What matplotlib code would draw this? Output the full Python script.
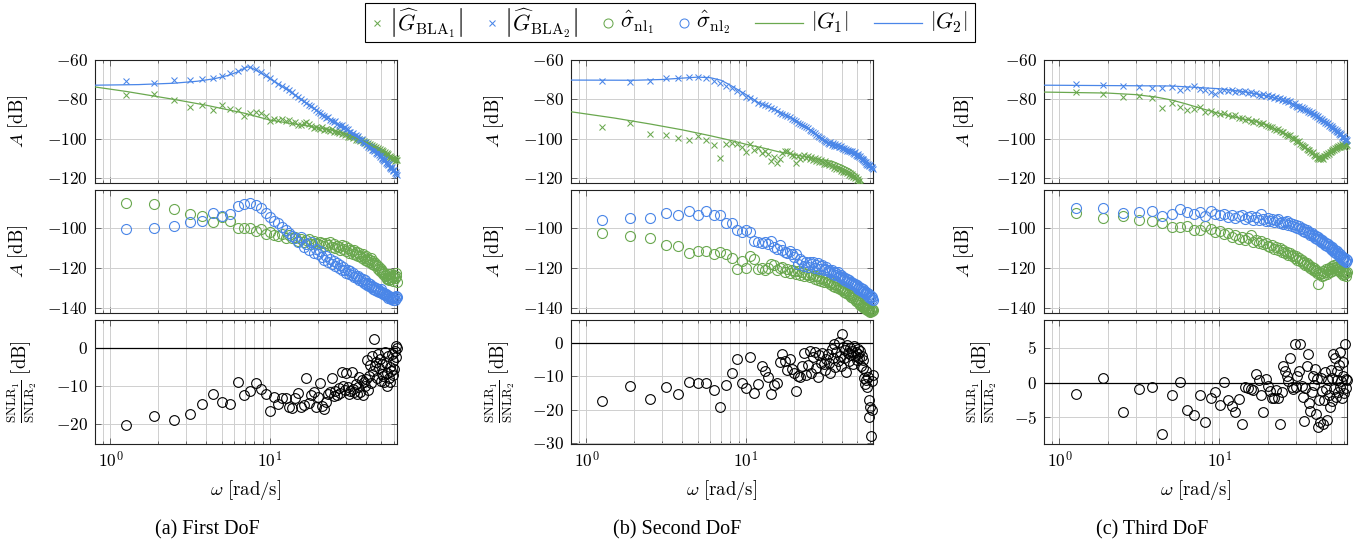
import numpy as np
import matplotlib
matplotlib.use('Agg')
import matplotlib.pyplot as plt
from matplotlib.ticker import FixedLocator, FuncFormatter, NullFormatter
from matplotlib.lines import Line2D
from matplotlib.patches import Rectangle

plt.rcParams['mathtext.fontset'] = 'cm'
plt.rcParams['font.family'] = ['Liberation Serif', 'DejaVu Serif']

GREEN = '#6aa84f'
BLUE = '#4a86e8'

# excitation frequencies [rad/s]
omega = [1.26, 1.88, 2.51, 3.14, 3.77, 4.40, 5.03, 5.65, 6.28, 6.91,
         7.54, 8.17, 8.80, 9.42, 10.05, 10.68, 11.31, 11.94, 12.57, 13.19,
         13.82, 14.45, 15.08, 15.71, 16.34, 16.96, 17.59, 18.22, 18.85, 19.48,
         20.11, 20.73, 21.36, 21.99, 22.62, 23.25, 23.88, 24.50, 25.13, 25.76,
         26.39, 27.02, 27.65, 28.27, 28.90, 29.53, 30.16, 30.79, 31.42, 32.04,
         32.67, 33.30, 33.93, 34.56, 35.19, 35.81, 36.44, 37.07, 37.70, 38.33,
         38.96, 39.58, 40.21, 40.84, 41.47, 42.10, 42.73, 43.35, 43.98, 44.61,
         45.24, 45.87, 46.50, 47.12, 47.75, 48.38, 49.01, 49.64, 50.27, 50.89,
         51.52, 52.15, 52.78, 53.41, 54.04, 54.66, 55.29, 55.92, 56.55, 57.18,
         57.81, 58.43, 59.06, 59.69, 60.32, 60.95, 61.58, 62.20, 62.83]

# ---------------- First DoF ----------------
w_G1_a = [0.8, 1.26, 2.5, 4.0, 6.9, 10, 15, 20, 25, 30, 40, 51, 62.83]
G1_a = [-73.7, -76.0, -80.0, -83.0, -87.0, -90.5, -92.8, -94.3, -95.6, -97.5, -101.7, -106.7, -110.5]
w_G2_a = [0.8, 1.5, 2.5, 3.5, 4.5, 5.5, 6.3, 7.0, 7.3, 7.7, 8.5, 10, 12, 15, 20, 25, 30, 40, 50, 62.83]
G2_a = [-72.8, -72.5, -71.8, -70.8, -69.5, -67.8, -66.0, -64.0, -63.5, -64.0, -66.0, -69.5, -73.5, -79.0,
        -86.0, -91.0, -95.0, -102.5, -109.0, -117.5]
BLA1_a = [-78.0, -77.4, -80.3, -83.7, -82.9, -85.4, -82.9, -84.8, -85.4, -88.5,
          -86.8, -86.3, -87.0, -88.5, -91.0, -89.8, -90.5, -89.8, -91.0, -90.6,
          -92.1, -91.4, -92.8, -93.2, -92.0, -91.6, -92.3, -93.5, -94.8, -93.9,
          -94.6, -95.3, -94.1, -95.8, -94.9, -95.5, -96.3, -95.0, -96.8, -95.9,
          -96.5, -97.2, -96.1, -97.8, -97.0, -98.2, -97.6, -98.9, -98.1, -99.3,
          -98.7, -99.8, -99.2, -100.4, -99.6, -100.9, -100.1, -101.3, -100.5, -101.8,
          -101.0, -102.2, -101.5, -102.8, -102.0, -103.3, -102.5, -103.9, -103.1, -104.4,
          -103.6, -104.9, -104.1, -105.5, -104.7, -106.0, -105.3, -106.6, -105.8, -107.1,
          -106.4, -107.6, -106.9, -108.2, -107.4, -108.8, -108.0, -109.3, -108.6, -109.8,
          -109.1, -110.4, -109.6, -110.9, -110.2, -111.3, -109.9, -110.7, -111.0]
BLA2_a = [-70.8, -71.5, -70.3, -70.2, -69.7, -69.0, -68.0, -66.8, -65.4, -63.9,
          -63.4, -64.4, -66.0, -67.6, -69.3, -70.8, -72.1, -73.0, -74.2, -75.3,
          -76.5, -77.8, -78.6, -79.9, -80.8, -81.6, -82.9, -83.5, -84.6, -85.2,
          -86.2, -86.8, -87.9, -88.3, -89.4, -89.0, -90.3, -90.8, -91.5, -91.2,
          -92.4, -92.8, -93.5, -93.1, -94.6, -94.2, -95.3, -95.0, -96.4, -96.8,
          -97.5, -96.9, -98.4, -98.0, -99.3, -98.7, -100.2, -100.6, -99.9, -101.6,
          -102.0, -101.5, -103.1, -102.6, -104.0, -103.5, -104.8, -104.2, -105.6, -105.9,
          -106.4, -105.8, -107.3, -107.8, -107.0, -108.5, -109.1, -108.4, -109.9, -110.2,
          -110.8, -111.4, -110.5, -112.2, -112.9, -111.9, -113.5, -113.0, -114.4, -114.8,
          -115.3, -114.6, -116.1, -116.5, -115.8, -117.2, -117.8, -116.9, -118.6]
SIG1_a = [-87.5, -87.8, -90.3, -92.8, -94.2, -97.0, -94.5, -96.5, -99.8, -100.0,
          -100.0, -101.5, -100.7, -102.8, -102.0, -103.3, -104.2, -102.9, -104.8, -103.6,
          -105.2, -104.4, -106.3, -105.7, -107.1, -106.0, -105.5, -107.8, -106.6, -107.3,
          -108.2, -106.9, -107.6, -109.0, -107.4, -108.5, -106.8, -109.3, -108.0, -110.1,
          -108.8, -109.6, -111.0, -108.4, -110.5, -109.2, -111.6, -110.0, -112.3, -110.8,
          -111.5, -112.8, -110.9, -113.4, -112.1, -114.0, -112.7, -113.8, -115.2, -113.1,
          -114.6, -115.9, -114.2, -116.5, -115.3, -117.1, -116.0, -115.2, -117.8, -116.6,
          -118.3, -117.5, -119.2, -118.6, -120.4, -119.7, -121.3, -120.5, -122.2, -121.4,
          -123.0, -122.4, -124.2, -123.6, -125.5, -124.8, -123.2, -126.0, -124.4, -122.8,
          -125.3, -123.9, -124.7, -126.4, -123.6, -125.0, -122.5, -124.1, -126.8]
SIG2_a = [-100.7, -100.0, -99.2, -97.0, -96.5, -92.3, -94.0, -92.8, -89.2, -87.8,
          -87.3, -88.7, -90.0, -92.3, -94.5, -96.5, -97.5, -99.5, -101.2, -102.4,
          -103.8, -105.1, -107.0, -104.6, -109.5, -108.2, -111.0, -106.9, -112.3, -110.4,
          -113.0, -111.6, -114.5, -116.2, -113.8, -117.0, -115.4, -118.1, -116.6, -119.0,
          -117.4, -120.0, -118.6, -121.2, -119.5, -120.8, -122.3, -121.0, -123.0, -121.7,
          -123.5, -122.4, -124.6, -123.8, -125.2, -124.0, -126.1, -125.0, -126.7, -125.6,
          -127.3, -126.2, -127.9, -128.6, -127.4, -129.0, -128.2, -129.7, -128.8, -130.3,
          -129.6, -131.0, -130.2, -131.5, -130.7, -132.1, -131.3, -130.5, -132.6, -131.8,
          -133.1, -132.4, -133.7, -132.9, -134.2, -133.5, -134.8, -133.9, -135.2, -134.5,
          -135.6, -134.7, -136.0, -135.1, -134.3, -135.8, -134.9, -133.8, -134.6]
SNLR_a = [-20.4, -17.8, -18.9, -17.4, -14.7, -12.1, -14.3, -14.8, -8.9, -12.3,
          -11.3, -9.3, -10.8, -12.1, -16.7, -13.0, -14.7, -13.2, -13.2, -15.6,
          -15.7, -13.2, -11.9, -15.6, -15.0, -8.0, -14.5, -12.3, -11.5, -15.6,
          -13.0, -9.3, -15.4, -16.1, -14.1, -12.1, -11.7, -8.0, -12.6, -11.4,
          -12.3, -10.6, -11.8, -6.2, -9.9, -11.0, -6.6, -10.4, -12.0, -11.2,
          -6.3, -10.8, -11.7, -9.4, -12.1, -10.2, -7.6, -11.5, -8.3, -12.3,
          -9.0, -10.0, -8.1, -3.2, -11.0, -7.4, -4.5, -9.2, -2.0, -6.1,
          2.4, -4.8, -3.6, -7.9, -1.5, -5.3, -2.8, -8.6, -4.1, -6.8,
          -7.4, -8.9, -1.0, -3.9, -10.1, -6.5, -2.2, -7.8, -5.0, -9.0,
          -6.0, -1.6, -7.2, -3.4, -5.6, -0.8, 0.6, -2.4, 0.0]

# ---------------- Second DoF ----------------
w_G1_b = [0.8, 1.5, 2.5, 4, 6, 8, 10, 13, 16, 20, 25, 30, 35, 40, 45, 50, 55, 62.83]
G1_b = [-86.3, -89.5, -92.5, -95.5, -98.5, -100.8, -102.8, -104.8, -106.6, -108.0, -109.5, -110.7,
        -111.5, -113.5, -115.5, -118.5, -123.0, -130.0]
w_G2_b = [0.8, 2, 3, 4, 5, 6, 7, 8, 10, 12.2, 15.5, 19.8, 24, 29, 32, 41, 47, 55, 62.83]
G2_b = [-70.2, -70.3, -69.9, -69.2, -68.7, -69.0, -70.3, -72.8, -77.5, -82.0, -85.4, -89.7, -94.0,
        -99.0, -101.5, -104.5, -106.6, -110.0, -115.0]
BLA1_b = [-93.9, -92.2, -97.8, -98.1, -99.8, -100.7, -98.5, -100.7, -103.2, -110.0,
          -102.7, -102.4, -102.7, -104.0, -106.6, -102.7, -105.8, -104.5, -107.2, -106.0,
          -108.0, -111.3, -109.2, -112.5, -110.1, -107.2, -106.3, -106.0, -107.5, -108.4,
          -109.0, -112.4, -108.6, -110.2, -109.5, -108.1, -109.9, -108.8, -110.5, -109.3,
          -110.8, -109.6, -111.3, -110.4, -112.0, -110.9, -111.6, -112.8, -111.4, -113.0,
          -112.2, -113.6, -112.9, -114.1, -113.3, -114.7, -113.8, -115.2, -114.4, -115.6,
          -114.9, -116.2, -115.4, -116.7, -115.9, -117.1, -116.4, -117.6, -116.8, -118.2,
          -117.5, -118.8, -118.1, -119.4, -118.7, -120.1, -119.5, -121.0, -120.3, -122.0,
          -121.6, -123.5, -124.8, -126.0, -127.3, -128.5, -129.4, -130.6, -131.5, -132.2,
          -133.0, -133.8, -134.5, -135.1, -135.9, -136.4, -137.0, -137.6, -138.1]
BLA2_b = [-70.7, -71.0, -70.7, -69.3, -69.0, -68.5, -68.8, -69.3, -70.7, -71.9,
          -73.0, -74.4, -75.8, -77.0, -78.6, -79.4, -80.5, -81.6, -82.2, -83.0,
          -83.6, -84.5, -85.1, -85.9, -86.8, -87.2, -87.9, -88.6, -89.0, -89.8,
          -90.6, -91.1, -91.8, -92.5, -92.9, -93.6, -94.2, -94.8, -95.5, -95.9,
          -96.7, -97.3, -98.0, -98.4, -99.1, -99.6, -100.3, -100.5, -101.2, -101.8,
          -102.0, -102.6, -101.8, -103.1, -102.4, -103.5, -102.9, -103.7, -103.2, -104.0,
          -104.3, -103.9, -104.8, -105.2, -104.5, -105.6, -105.1, -106.0, -105.5, -106.4,
          -106.0, -106.8, -106.3, -107.2, -107.7, -107.0, -108.1, -108.6, -108.0, -109.0,
          -109.4, -108.9, -109.8, -110.3, -110.9, -110.4, -111.5, -112.0, -111.6, -112.6,
          -113.1, -112.7, -113.6, -114.0, -113.5, -114.6, -115.0, -114.3, -115.6]
SIG1_b = [-102.3, -104.0, -105.0, -108.3, -109.0, -112.5, -111.7, -111.5, -113.2, -112.0,
          -113.2, -115.0, -120.3, -116.5, -119.8, -114.2, -115.3, -120.3, -120.0, -120.8,
          -119.8, -117.8, -118.7, -121.2, -120.1, -119.4, -121.8, -120.6, -122.3, -121.0,
          -121.7, -122.9, -121.3, -123.4, -122.2, -124.0, -122.8, -123.5, -124.6, -123.1,
          -124.2, -125.3, -123.9, -125.8, -124.8, -126.4, -125.2, -126.9, -126.0, -125.5,
          -127.2, -126.5, -128.0, -127.0, -128.8, -127.8, -129.4, -128.5, -130.0, -129.2,
          -130.5, -129.8, -131.2, -130.4, -131.9, -131.0, -132.5, -131.7, -133.1, -132.3,
          -133.6, -134.3, -133.5, -135.0, -134.2, -135.7, -136.4, -135.6, -137.0, -136.2,
          -137.6, -138.3, -137.4, -138.9, -139.5, -138.7, -140.0, -139.3, -140.6, -139.8,
          -140.9, -140.3, -141.4, -140.7, -141.8, -141.1, -140.5, -141.6, -140.9]
SIG2_b = [-96.2, -95.0, -94.8, -92.3, -93.3, -91.7, -93.3, -91.7, -93.7, -93.7,
          -97.5, -97.3, -100.8, -102.0, -100.8, -102.0, -106.5, -107.0, -107.5, -107.0,
          -107.8, -106.7, -109.5, -110.3, -108.7, -111.2, -112.0, -112.5, -111.4, -112.8,
          -114.6, -113.2, -117.8, -115.5, -116.3, -118.9, -117.1, -119.4, -116.8, -118.2,
          -117.0, -119.8, -118.4, -117.5, -120.6, -119.2, -118.6, -121.0, -120.3, -119.6,
          -121.5, -120.8, -122.2, -121.0, -122.9, -122.1, -123.4, -122.6, -121.9, -123.8,
          -124.4, -123.6, -125.1, -124.3, -125.8, -124.9, -126.4, -125.7, -127.0, -126.2,
          -127.5, -126.9, -128.1, -127.3, -128.7, -127.9, -129.2, -128.4, -129.8, -130.3,
          -129.5, -130.9, -130.2, -131.4, -130.6, -132.0, -131.3, -132.6, -131.8, -133.2,
          -132.5, -133.8, -133.0, -134.3, -135.0, -134.1, -135.4, -134.6, -135.8]
SNLR_b = [-17.2, -12.7, -16.8, -13.0, -15.3, -11.7, -12.0, -12.0, -14.0, -19.0,
          -12.5, -9.0, -4.7, -12.0, -13.3, -4.3, -14.8, -12.2, -6.8, -8.3,
          -10.2, -15.2, -12.5, -12.0, -5.8, -3.2, -5.5, -8.0, -4.8, -7.8,
          -9.0, -14.3, -9.8, -10.3, -7.0, -3.1, -9.5, -6.6, -2.4, -8.9,
          -4.2, -2.6, -7.4, -10.3, -3.5, -5.9, -2.9, -6.4, -8.1, -4.7,
          -3.3, -6.0, -9.0, -1.8, -4.4, -0.2, -7.2, -2.7, -5.3, 0.4,
          -3.9, -6.8, 2.7, -1.2, -4.6, -2.0, -8.6, -0.5, -3.1, -5.5,
          -1.5, -3.6, -2.3, -6.3, -0.9, -4.0, -2.8, -5.0, -1.8, -3.4,
          -4.6, -2.5, -6.8, -3.9, -7.6, -5.2, -10.6, -12.3, -8.4, -11.0,
          -13.0, -10.2, -17.0, -22.0, -19.0, -27.8, -20.0, -11.5, -9.5]

# ---------------- Third DoF ----------------
w_G1_c = [0.8, 2, 3, 4, 5, 6, 8, 10, 13.5, 17.2, 22, 28, 32, 36, 39, 42, 45, 52, 62.83]
G1_c = [-76.3, -76.8, -77.6, -78.8, -80.3, -82.0, -85.0, -87.2, -89.7, -91.2, -94.7, -99.0, -102.4,
        -105.8, -108.3, -109.5, -108.5, -105.0, -103.2]
w_G2_c = [0.8, 5, 10, 15, 20, 25, 30, 35, 40, 45, 50, 55, 62.83]
G2_c = [-72.8, -73.2, -74.6, -76.3, -78.3, -80.5, -83.0, -85.8, -88.5, -91.2, -94.0, -96.8, -101.0]
BLA1_c = [-76.1, -77.3, -79.0, -78.3, -79.5, -84.6, -81.7, -83.7, -85.4, -84.9,
          -83.7, -86.3, -85.9, -86.8, -87.5, -87.0, -88.2, -88.6, -88.0, -89.3,
          -89.6, -90.3, -89.9, -90.9, -91.4, -90.8, -91.9, -92.4, -91.8, -92.9,
          -93.6, -94.2, -93.8, -94.9, -95.5, -95.1, -96.2, -96.8, -96.4, -97.5,
          -98.1, -98.7, -98.3, -99.6, -100.2, -99.8, -101.0, -101.6, -101.2, -102.5,
          -103.1, -103.7, -104.4, -104.0, -105.3, -105.9, -105.5, -106.8, -107.4, -107.0,
          -108.2, -108.9, -108.5, -109.6, -110.2, -109.4, -110.5, -109.8, -109.2, -110.1,
          -108.7, -109.0, -107.9, -108.3, -107.2, -107.6, -106.5, -106.9, -105.8, -106.2,
          -105.1, -105.6, -104.5, -105.0, -104.0, -104.6, -103.6, -104.3, -103.2, -104.0,
          -103.5, -102.8, -103.7, -103.0, -104.2, -102.9, -103.6, -102.6, -103.3]
BLA2_c = [-72.2, -72.7, -73.0, -73.6, -74.0, -74.0, -73.6, -75.3, -74.4, -73.2,
          -74.9, -75.3, -76.1, -77.3, -75.6, -75.0, -76.0, -75.4, -76.2, -75.8,
          -76.5, -76.0, -76.9, -76.4, -77.3, -76.8, -77.6, -78.1, -77.4, -78.5,
          -78.0, -78.9, -78.4, -79.3, -78.8, -79.8, -79.2, -80.3, -79.7, -80.9,
          -80.4, -81.5, -81.0, -82.2, -82.8, -82.1, -83.4, -84.0, -83.5, -84.7,
          -84.0, -84.9, -84.5, -85.6, -85.2, -86.3, -85.9, -86.9, -86.5, -87.6,
          -87.3, -88.4, -88.0, -89.1, -88.7, -89.8, -89.4, -90.5, -90.1, -91.2,
          -90.8, -91.9, -91.5, -92.6, -92.2, -93.3, -92.9, -94.0, -93.6, -94.7,
          -94.3, -95.4, -95.0, -96.1, -95.7, -96.8, -96.4, -97.5, -97.1, -98.2,
          -97.8, -98.9, -98.5, -99.6, -99.2, -100.3, -99.9, -101.0, -100.6]
SIG1_c = [-92.3, -95.0, -94.2, -96.2, -96.5, -97.3, -99.5, -99.5, -99.0, -101.2,
          -100.8, -99.0, -100.7, -102.0, -101.3, -103.2, -102.6, -104.4, -103.5, -105.3,
          -104.6, -106.1, -105.2, -103.5, -106.8, -105.9, -107.5, -106.6, -108.2, -107.3,
          -108.9, -109.6, -108.4, -110.3, -109.5, -111.2, -110.2, -111.9, -111.0, -112.6,
          -112.0, -113.4, -112.6, -114.1, -113.3, -115.0, -114.2, -115.8, -115.0, -116.7,
          -116.0, -117.5, -116.8, -118.3, -117.6, -119.1, -118.4, -120.0, -119.3, -120.8,
          -120.1, -121.6, -120.9, -122.4, -127.8, -121.8, -123.2, -122.5, -124.0, -121.3,
          -123.3, -122.0, -120.5, -122.8, -121.2, -119.8, -122.1, -120.6, -119.0, -121.5,
          -120.0, -118.6, -121.0, -119.3, -117.9, -120.4, -118.8, -121.7, -119.5, -120.9,
          -122.3, -120.8, -123.5, -121.4, -122.8, -121.9, -123.8, -122.4, -122.0]
SIG2_c = [-89.8, -89.8, -92.3, -92.0, -91.7, -94.2, -92.8, -90.3, -92.0, -92.8,
          -92.0, -94.2, -91.5, -92.8, -93.3, -92.8, -94.6, -93.5, -95.2, -94.0,
          -93.6, -95.4, -94.3, -93.9, -95.8, -94.7, -96.1, -93.2, -95.3, -96.5,
          -95.0, -96.7, -95.6, -97.2, -96.2, -95.4, -97.6, -96.8, -98.0, -97.1,
          -96.4, -98.3, -97.5, -98.8, -97.9, -99.4, -98.6, -99.9, -99.2, -100.5,
          -99.8, -101.3, -100.6, -102.0, -101.2, -102.7, -101.9, -103.4, -102.6, -104.1,
          -103.3, -104.8, -104.0, -105.5, -104.7, -106.2, -105.4, -106.9, -106.1, -107.6,
          -106.8, -108.3, -107.5, -109.0, -108.2, -109.7, -108.9, -110.4, -109.6, -111.1,
          -110.3, -111.8, -111.0, -112.5, -111.7, -113.2, -112.4, -113.9, -113.1, -114.6,
          -113.8, -115.3, -114.5, -116.0, -115.2, -116.7, -115.6, -117.1, -116.2]
SNLR_c = [-1.6, 0.6, -4.3, -0.9, -0.7, -7.5, -1.8, 0.1, -4.0, -4.7,
          -1.8, -5.7, -2.3, -1.4, -3.3, 0.1, -2.6, -3.4, -4.3, -2.4,
          -6.0, -0.6, -0.8, -1.0, -1.1, 1.2, 0.3, -1.8, -4.3, 0.5,
          -0.5, -1.3, -2.3, -2.3, -1.1, -2.3, -6.0, -1.4, 2.4, 1.7,
          1.0, 0.2, 3.6, -0.6, -1.0, 5.6, -0.7, 1.0, 1.7, 5.6,
          -0.5, -2.1, -5.6, -0.8, 2.4, 4.2, -2.9, -4.1, -1.4, 0.9,
          -0.3, 1.9, -4.6, 0.5, -6.5, -2.6, -5.7, 0.7, -1.2, -6.0,
          -2.5, 1.5, -0.9, -5.4, 0.3, -1.8, -3.6, 1.8, -2.7, 0.6,
          4.1, -1.0, 3.5, -2.1, 0.4, 1.6, -1.4, 2.6, -0.6, 4.4,
          0.2, -2.2, 1.0, 2.9, -1.5, 5.6, 0.5, -0.8, 0.3]

captions = ['(a) First DoF', '(b) Second DoF', '(c) Third DoF']
snlr_ylims = [(-25.3, 7.4), (-30.2, 6.9), (-8.9, 9.05)]
snlr_yticks = [[-20, -10, 0], [-30, -20, -10, 0], [-5, 0, 5]]

panels = [
    dict(wG1=w_G1_a, G1=G1_a, wG2=w_G2_a, G2=G2_a, B1=BLA1_a, B2=BLA2_a, S1=SIG1_a, S2=SIG2_a, R=SNLR_a),
    dict(wG1=w_G1_b, G1=G1_b, wG2=w_G2_b, G2=G2_b, B1=BLA1_b, B2=BLA2_b, S1=SIG1_b, S2=SIG2_b, R=SNLR_b),
    dict(wG1=w_G1_c, G1=G1_c, wG2=w_G2_c, G2=G2_c, B1=BLA1_c, B2=BLA2_c, S1=SIG1_c, S2=SIG2_c, R=SNLR_c),
]

W, H = 1364, 545
fig = plt.figure(figsize=(W / 100, H / 100), dpi=100)

cols = [(95, 397), (571, 873), (1044, 1347)]
rows = [(60, 183), (190, 313), (320, 444)]
ylab_x = [(-0.215, -0.215, -0.185), (-0.215, -0.215, -0.18), (-0.225, -0.225, -0.148)]
cap_x = [207, 677, 1152]

TICKFS = 12.5
LABFS = 13.5
LEGFS = 16


def ax_at(x0, x1, y0, y1):
    return fig.add_axes([x0 / W, 1 - y1 / H, (x1 - x0) / W, (y1 - y0) / H])


def mfmt(v, pos):
    return r'$%d$' % int(round(v))


def xfmt(v, pos):
    return r'$10^{%d}$' % int(round(np.log10(v)))


def style(ax, show_x):
    ax.set_xscale('log')
    ax.set_xlim(0.8, 62.83)
    ax.xaxis.set_major_locator(FixedLocator([1, 10]))
    ax.xaxis.set_minor_locator(FixedLocator([0.8, 0.9, 2, 3, 4, 5, 6, 7, 8, 9, 20, 30, 40, 50, 60]))
    ax.xaxis.set_minor_formatter(NullFormatter())
    if show_x:
        ax.xaxis.set_major_formatter(FuncFormatter(xfmt))
    else:
        ax.xaxis.set_major_formatter(NullFormatter())
    ax.yaxis.set_major_formatter(FuncFormatter(mfmt))
    ax.grid(True, which='both', axis='x', color='#cfcfcf', lw=0.7)
    ax.grid(True, which='major', axis='y', color='#cfcfcf', lw=0.7)
    ax.set_axisbelow(True)
    ax.tick_params(which='both', direction='in', top=True, right=True, color='#555555', width=0.6,
                   labelsize=TICKFS, pad=5)
    ax.tick_params(which='major', length=4)
    ax.tick_params(which='minor', length=2.5)
    for s in ax.spines.values():
        s.set_linewidth(0.8)
        s.set_color('#222222')


def scatter(ax, x, y, marker, color, ms, mew, ylim):
    n = min(len(x), len(y))
    xs, ys = np.array(x[:n]), np.array(y[:n])
    out = np.any((ys < ylim[0]) | (ys > ylim[1]))
    ax.plot(xs, ys, ls='none', marker=marker, ms=ms, mew=mew, mfc='none', mec=color,
            clip_on=bool(out), zorder=3)


TOP_YL = (-122.5, -60)
MID_YL = (-142.5, -81)

for i, p in enumerate(panels):
    x0, x1 = cols[i]
    ax1 = ax_at(x0, x1, *rows[0])
    ax2 = ax_at(x0, x1, *rows[1])
    ax3 = ax_at(x0, x1, *rows[2])

    scatter(ax1, omega, p['B1'], 'x', GREEN, 4.8, 0.75, TOP_YL)
    scatter(ax1, omega, p['B2'], 'x', BLUE, 4.8, 0.75, TOP_YL)
    ax1.plot(p['wG1'], p['G1'], color=GREEN, lw=0.9, zorder=4)
    ax1.plot(p['wG2'], p['G2'], color=BLUE, lw=0.9, zorder=4)
    ax1.set_ylim(*TOP_YL)
    ax1.set_yticks([-120, -100, -80, -60])

    scatter(ax2, omega, p['S1'], 'o', GREEN, 7.2, 0.8, MID_YL)
    scatter(ax2, omega, p['S2'], 'o', BLUE, 7.2, 0.8, MID_YL)
    ax2.set_ylim(*MID_YL)
    ax2.set_yticks([-140, -120, -100])

    ax3.axhline(0, color='black', lw=0.9, zorder=2)
    scatter(ax3, omega, p['R'], 'o', 'black', 7.0, 0.8, snlr_ylims[i])
    ax3.set_ylim(*snlr_ylims[i])
    ax3.set_yticks(snlr_yticks[i])

    for ax, show in ((ax1, False), (ax2, False), (ax3, True)):
        style(ax, show)

    ax1.set_ylabel(r'$A\ [\mathrm{dB}]$', fontsize=LABFS)
    ax2.set_ylabel(r'$A\ [\mathrm{dB}]$', fontsize=LABFS)
    ax3.set_ylabel(r'$\frac{\mathrm{SNLR}_1}{\mathrm{SNLR}_2}\ [\mathrm{dB}]$', fontsize=LABFS)
    for ax, lx in zip((ax1, ax2, ax3), ylab_x[i]):
        ax.yaxis.set_label_coords(lx, 0.5)
    ax3.set_xlabel(r'$\omega\ [\mathrm{rad/s}]$', fontsize=LABFS, labelpad=5)

    fig.text(cap_x[i] / W, 1 - 530 / H, captions[i], ha='center', va='center', fontsize=14.5)

# ---- legend (hand-built, pgfplots style) ----
leg_items = [
    ('x', GREEN, r'$\left|\widehat{G}_{\mathrm{BLA}_1}\right|$'),
    ('x', BLUE, r'$\left|\widehat{G}_{\mathrm{BLA}_2}\right|$'),
    ('o', GREEN, r'$\hat{\sigma}_{\mathrm{nl}_1}$'),
    ('o', BLUE, r'$\hat{\sigma}_{\mathrm{nl}_2}$'),
    ('-', GREEN, r'$\left|G_1\right|$'),
    ('-', BLUE, r'$\left|G_2\right|$'),
]
renderer = fig.canvas.get_renderer()
tw = []
for _, _, lab in leg_items:
    t = fig.text(0, 0, lab, fontsize=LEGFS)
    tw.append(t.get_window_extent(renderer).width)
    t.remove()
HW = {'x': 8, 'o': 9, '-': 48}
GAP_H, GAP_ITEM = 8, 22
box_l, box_r, ytop, ybot = 365, 975, 3, 42
total = sum(HW[m] + GAP_H + w for (m, _, _), w in zip(leg_items, tw))
gap = max(GAP_ITEM, (box_r - box_l - 16 - total) / (len(leg_items) - 1))
total_all = total + gap * (len(leg_items) - 1)
xc = (box_l + box_r) / 2
xs = xc - total_all / 2
fig.add_artist(Rectangle(((xs - 8) / W, 1 - ybot / H), (total_all + 16) / W, (ybot - ytop) / H,
                         transform=fig.transFigure, fc='white', ec='black', lw=0.8, zorder=5))
yc = 1 - (ytop + ybot) / 2 / H
x = xs
for (m, c, lab), w in zip(leg_items, tw):
    if m == '-':
        fig.add_artist(Line2D([x / W, (x + HW[m]) / W], [yc, yc], transform=fig.transFigure,
                              color=c, lw=0.9, zorder=6))
    else:
        ms = 4.8 if m == 'x' else 6.5
        fig.add_artist(Line2D([(x + HW[m] / 2) / W], [yc], transform=fig.transFigure, ls='none',
                              marker=m, ms=ms, mew=0.75, mfc='none', mec=c, zorder=6))
    x += HW[m] + GAP_H
    fig.text(x / W, yc, lab, fontsize=LEGFS, ha='left', va='center', zorder=6)
    x += w + gap

fig.savefig('out.png', dpi=100)
